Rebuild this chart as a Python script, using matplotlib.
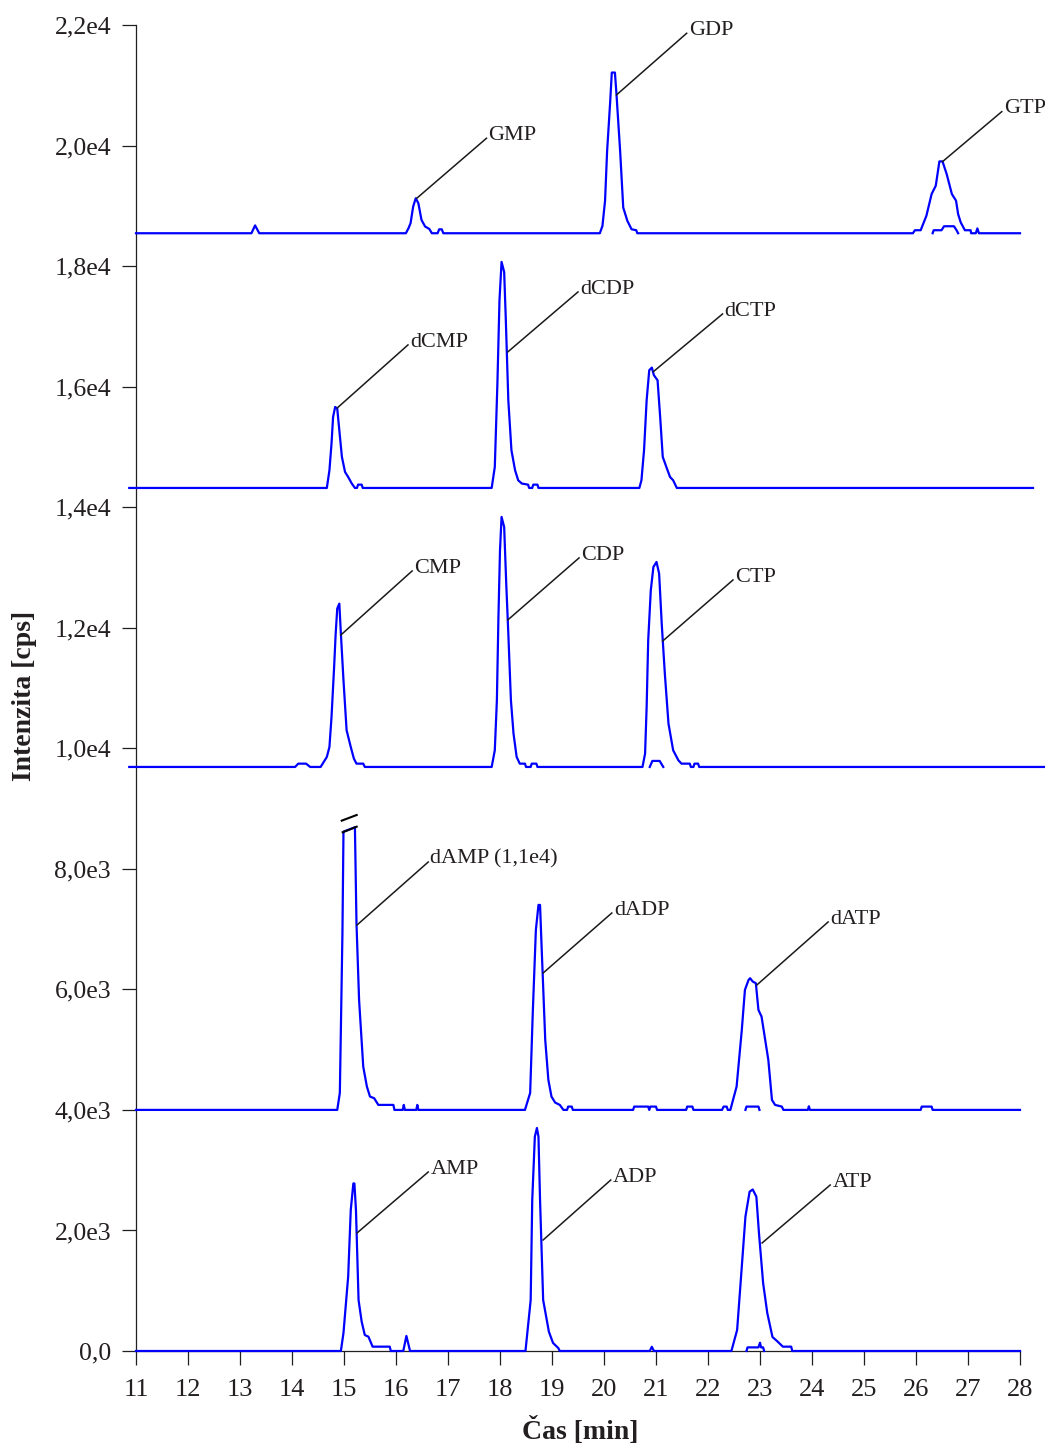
import matplotlib
matplotlib.use("Agg")
import matplotlib.pyplot as plt

# ---------------- data (time [min], intensity above trace baseline [cps]) ----------------
offsets = [0, 4000, 9690, 14319, 18545]

trace_amp = [(11.0, 0), (14.94, 0), (14.99, 300), (15.08, 1233), (15.13, 2340), (15.18, 2780),
             (15.20, 2780), (15.23, 2340), (15.28, 846), (15.34, 486), (15.40, 265), (15.47, 237),
             (15.55, 72), (15.88, 72), (15.90, 0), (16.14, 0), (16.20, 250), (16.27, 0),
             (18.49, 0), (18.59, 846), (18.62, 2505), (18.67, 3556), (18.71, 3700), (18.74, 3556),
             (18.77, 2505), (18.83, 846), (18.94, 320), (19.02, 133), (19.12, 50), (19.15, 0),
             (20.88, 0), (20.92, 70), (20.96, 0),
             (22.45, 0), (22.56, 348), (22.65, 1400), (22.72, 2230), (22.80, 2643), (22.86, 2680),
             (22.93, 2560), (22.98, 1958), (23.06, 1128), (23.14, 630), (23.24, 232), (23.32, 171),
             (23.44, 72), (23.60, 72), (23.62, 0), (28.0, 0)]
minor_amp = [(22.74, 0), (22.76, 60), (22.97, 60), (23.00, 138), (23.02, 60), (23.06, 60), (23.08, 0)]

trace_damp = [(11.0, 0), (14.87, 0), (14.92, 282), (14.97, 2937), (14.99, 4617), (15.21, 4689),
              (15.24, 3098), (15.29, 1825), (15.37, 718), (15.44, 387), (15.50, 221), (15.58, 194),
              (15.66, 83), (15.95, 83), (15.97, 0), (16.13, 0), (16.15, 83), (16.17, 0),
              (16.39, 0), (16.41, 83), (16.43, 0),
              (18.48, 0), (18.58, 282), (18.63, 1609), (18.69, 2987), (18.74, 3401), (18.77, 3401),
              (18.80, 2710), (18.87, 1161), (18.93, 498), (18.99, 221), (19.06, 122), (19.15, 83),
              (19.22, 0), (19.29, 0), (19.31, 55), (19.38, 55), (19.40, 0),
              (20.56, 0), (20.58, 55), (20.85, 55), (20.87, 0), (20.89, 55), (21.00, 55), (21.02, 0),
              (21.58, 0), (21.60, 55), (21.70, 55), (21.72, 0),
              (22.27, 0), (22.30, 55), (22.36, 55), (22.38, 0),
              (22.43, 0), (22.55, 387), (22.65, 1327), (22.71, 1991), (22.78, 2157), (22.81, 2185),
              (22.86, 2130), (22.92, 2102), (22.97, 1659), (23.03, 1548), (23.10, 1161), (23.16, 830),
              (23.23, 166), (23.29, 83), (23.42, 55), (23.45, 0),
              (23.92, 0), (23.94, 60), (23.96, 0),
              (26.09, 0), (26.11, 55), (26.30, 55), (26.32, 0), (28.0, 0)]
minor_damp = [(22.72, 0), (22.74, 55), (22.97, 55), (22.99, 0)]

trace_cmp = [(10.87, 0), (14.06, 0), (14.12, 55), (14.27, 55), (14.35, 0),
             (14.55, 0), (14.59, 55), (14.67, 166), (14.72, 332), (14.76, 830), (14.81, 1659),
             (14.84, 2213), (14.87, 2628), (14.91, 2710), (14.94, 2213), (14.99, 1438), (15.05, 609),
             (15.13, 332), (15.19, 138), (15.24, 55), (15.37, 55), (15.40, 0),
             (17.84, 0), (17.90, 277), (17.94, 1106), (17.97, 2489), (18.00, 3595), (18.03, 4148),
             (18.08, 3982), (18.12, 3042), (18.16, 2213), (18.21, 1106), (18.26, 553), (18.32, 166),
             (18.38, 55), (18.48, 55), (18.50, 0), (18.59, 0), (18.61, 55), (18.70, 55), (18.72, 0),
             (20.74, 0), (20.79, 221), (20.82, 995), (20.85, 2102), (20.90, 2931), (20.95, 3318),
             (21.01, 3401), (21.06, 3208), (21.11, 2378), (21.17, 1548), (21.24, 719), (21.33, 277),
             (21.43, 111), (21.49, 55), (21.65, 55), (21.67, 0), (21.72, 0), (21.74, 55), (21.81, 55),
             (21.83, 0), (28.48, 0)]
minor_cmp = [(20.88, 0), (20.93, 100), (21.07, 100), (21.14, 0)]

trace_dcmp = [(10.87, 0), (14.67, 0), (14.72, 293), (14.76, 737), (14.79, 1178), (14.83, 1344),
              (14.87, 1317), (14.91, 957), (14.96, 514), (15.02, 265), (15.08, 182), (15.15, 73),
              (15.21, 0), (15.25, 0), (15.27, 55), (15.34, 55), (15.36, 0),
              (17.84, 0), (17.90, 348), (17.95, 1732), (17.99, 3114), (18.03, 3750), (18.08, 3584),
              (18.11, 2837), (18.16, 1455), (18.22, 625), (18.29, 293), (18.35, 127), (18.42, 73),
              (18.54, 55), (18.56, 0), (18.62, 0), (18.64, 55), (18.72, 55), (18.74, 0),
              (20.68, 0), (20.72, 127), (20.77, 625), (20.82, 1455), (20.87, 1953), (20.92, 1997),
              (20.96, 1870), (21.03, 1787), (21.08, 1178), (21.13, 514), (21.21, 322), (21.27, 182),
              (21.33, 127), (21.40, 0), (28.25, 0)]

trace_gmp = [(11.0, 0), (13.22, 0), (13.29, 130), (13.37, 0),
             (16.19, 0), (16.24, 83), (16.28, 166), (16.33, 442), (16.38, 581), (16.43, 498),
             (16.49, 221), (16.56, 111), (16.64, 72), (16.69, 0), (16.80, 0), (16.83, 65),
             (16.88, 65), (16.91, 0),
             (19.92, 0), (19.97, 121), (20.02, 536), (20.06, 1366), (20.12, 2196), (20.15, 2666),
             (20.21, 2666), (20.24, 2306), (20.31, 1366), (20.37, 425), (20.45, 204), (20.53, 66),
             (20.62, 50), (20.64, 0),
             (25.94, 0), (25.98, 50), (26.09, 50), (26.20, 290), (26.30, 650), (26.38, 788),
             (26.45, 1192), (26.51, 1192), (26.59, 981), (26.69, 650), (26.77, 540), (26.81, 318),
             (26.86, 180), (26.94, 50), (27.05, 50), (27.06, 0), (27.15, 0), (27.18, 80), (27.21, 0),
             (28.0, 0)]
minor_gmp = [(26.32, 0), (26.34, 50), (26.49, 50), (26.54, 116), (26.73, 116), (26.78, 50), (26.81, 0)]

traces = [trace_amp, trace_damp, trace_cmp, trace_dcmp, trace_gmp]
minor_traces = [minor_amp, minor_damp, minor_cmp, None, minor_gmp]

# peak labels: (text, point on peak, end of leader line) in absolute chart units
peak_labels = [
    ("AMP", (15.25, 1958), (16.62, 2970)),
    ("ADP", (18.83, 1842), (20.13, 2837)),
    ("ATP", (23.04, 1792), (24.35, 2754)),
    ("dAMP (1,1e4)", (15.25, 7068), (16.62, 8113)),
    ("dADP", (18.83, 6272), (20.15, 7267)),
    ("dATP", (22.94, 6073), (24.31, 7118)),
    ("CMP", (14.94, 11880), (16.31, 12942)),
    ("CDP", (18.15, 12129), (19.52, 13158)),
    ("CTP", (21.13, 11780), (22.48, 12792)),
    ("dCMP", (14.87, 15646), (16.23, 16692)),
    ("dCDP", (18.15, 16576), (19.50, 17571)),
    ("dCTP", (20.95, 16249), (22.28, 17206)),
    ("GMP", (16.40, 19126), (17.74, 20121)),
    ("GDP", (20.24, 20840), (21.59, 21863)),
    ("GTP", (26.51, 19733), (27.65, 20563)),
]

# axis break marks on the truncated dAMP peak
break_marks = [[(14.975, 8606), (15.244, 8699)], [(14.956, 8799), (15.244, 8893)]]

x_ticks = list(range(11, 29))
y_ticks = [0, 2000, 4000, 6000, 8000, 10000, 12000, 14000, 16000, 18000, 20000, 22000]
y_tick_labels = ["0,0", "2,0e3", "4,0e3", "6,0e3", "8,0e3", "1,0e4", "1,2e4", "1,4e4",
                 "1,6e4", "1,8e4", "2,0e4", "2,2e4"]

# ---------------- figure ----------------
plt.rcParams['font.family'] = ['Liberation Serif', 'DejaVu Serif']
TXT = '#231f20'
BLUE = '#0000ff'

W, H = 1045, 1444
fig = plt.figure(figsize=(W / 100, H / 100), dpi=100)
ax = fig.add_axes([136 / W, 1 - 1351 / H, 884 / W, 1326 / H])

for tr, mn, off in zip(traces, minor_traces, offsets):
    ts = [p[0] for p in tr]
    vs = [p[1] + off for p in tr]
    ax.plot(ts, vs, color=BLUE, lw=1.6, clip_on=False, zorder=3)
    if mn is not None:
        ax.plot([p[0] for p in mn], [p[1] + off for p in mn], color=BLUE, lw=1.6,
                clip_on=False, zorder=3)

for mark in break_marks:
    ax.plot([p[0] for p in mark], [p[1] for p in mark], color='black', lw=1.5,
            clip_on=False, zorder=4)

for text, p0, p1 in peak_labels:
    ax.plot([p0[0], p1[0]], [p0[1], p1[1]], color='#1a1a1a', lw=1.1, zorder=4)
    ax.annotate(text, xy=p1, xytext=(1.5, 2.0), textcoords='offset points',
                ha='left', va='center', fontsize=16, color=TXT)

ax.set_xlim(11, 28)
ax.set_ylim(0, 22000)
ax.set_xticks(x_ticks)
ax.set_xticklabels([str(t) for t in x_ticks])
ax.set_yticks(y_ticks)
ax.set_yticklabels(y_tick_labels)

for s in ['top', 'right']:
    ax.spines[s].set_visible(False)
for s in ['left', 'bottom']:
    ax.spines[s].set_linewidth(0.9)
    ax.spines[s].set_color('#231f20')

ax.tick_params(axis='both', direction='out', length=10, width=0.9, colors=TXT,
               labelsize=18.5)
ax.tick_params(axis='x', pad=10, labelsize=19)
ax.tick_params(axis='y', pad=8)

ax.set_xlabel("Čas [min]", fontsize=20, fontweight='bold', color=TXT, va='center')
ax.set_ylabel("Intenzita [cps]", fontsize=20, fontweight='bold', color=TXT, va='center')
ax.xaxis.set_label_coords((580 - 136) / 884, -(1431 - 1351) / 1326)
ax.yaxis.set_label_coords((25 - 136) / 884, (1351 - 696) / 1326)

fig.savefig("out.png", dpi=100)
